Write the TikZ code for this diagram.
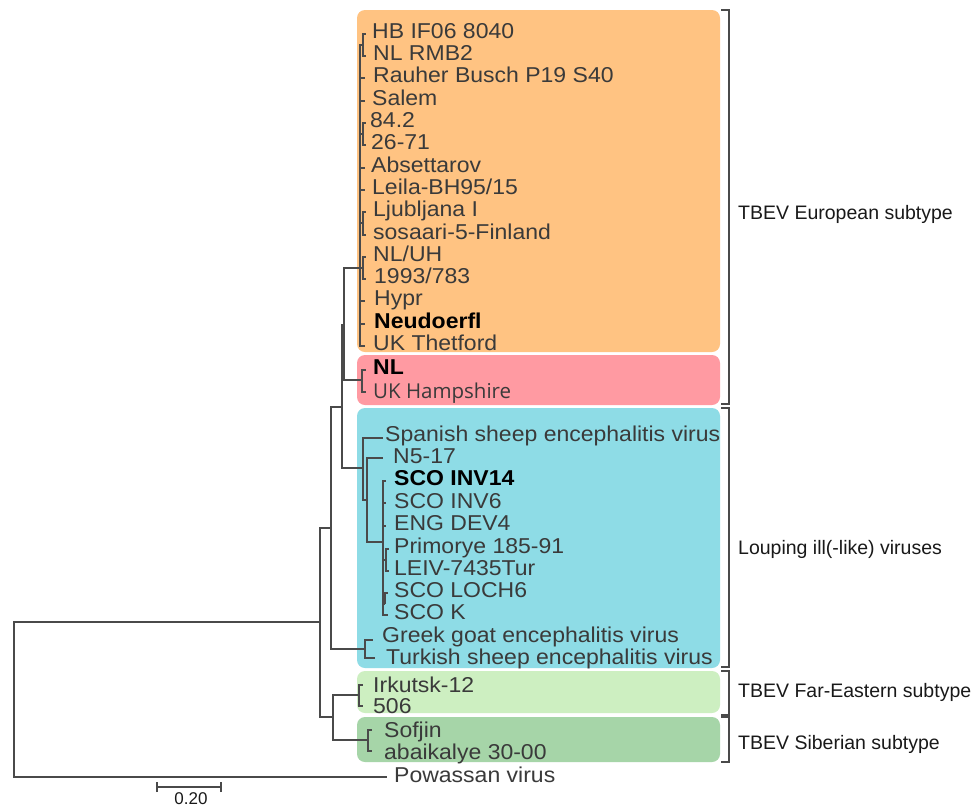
\documentclass[tikz,border=0pt]{standalone}
\usepackage{fontspec}
\setmainfont{Liberation Sans}
\newfontfamily\leaffont[FakeStretch=1.07]{Liberation Sans}
\newfontfamily\hampfont{Open Sans}
\definecolor{orangebox}{HTML}{FFC382}
\definecolor{redbox}{HTML}{FF9AA2}
\definecolor{cyanbox}{HTML}{8EDCE6}
\definecolor{lgreenbox}{HTML}{CDEFC1}
\definecolor{dgreenbox}{HTML}{A6D5A8}
\definecolor{treegray}{HTML}{4A4A4A}
\definecolor{leafgray}{HTML}{3A3A3A}
\begin{document}
\begin{tikzpicture}[x=1pt,y=-1pt,
  branch/.style={draw=treegray,line width=1.2pt},
  cladebox/.style={rounded corners=8pt},
  leaf/.style={anchor=base west,inner sep=0pt,text=leafgray,font=\leaffont\fontsize{21.5}{24}\selectfont},
  boldleaf/.style={leaf,text=black,font=\leaffont\bfseries\fontsize{21.5}{24}\selectfont},
  grplabel/.style={anchor=base west,inner sep=0pt,text=black!90,font=\fontsize{19.5}{22}\selectfont},
  bracket/.style={draw=treegray,line width=1.1pt}]
\useasboundingbox (0,0) rectangle (974,807);
\fill[white] (0,0) rectangle (974,807);
% clade boxes
\fill[orangebox,cladebox] (357,10) rectangle (720,352);
\fill[redbox,cladebox] (357,355) rectangle (720,405);
\fill[cyanbox,cladebox] (357,408) rectangle (720,668);
\fill[lgreenbox,cladebox] (357,671) rectangle (720,713);
\fill[dgreenbox,cladebox] (357,717) rectangle (720,762);
% brackets
\draw[bracket] (721,10) -| (729,404) -- (721,404);
\draw[bracket] (721,408) -| (729,667) -- (721,667);
\draw[bracket] (721,671) -| (729,715) -- (721,715);
\draw[bracket] (721,717) -| (729,762) -- (721,762);
% group labels
\node[grplabel] (gEU) at (738,219) {TBEV European subtype};
\node[grplabel] (gLI) at (738,554) {Louping ill(-like) viruses};
\node[grplabel] (gFE) at (738,697) {TBEV Far-Eastern subtype};
\node[grplabel] (gSI) at (738,749) {TBEV Siberian subtype};
% tree coordinates
\coordinate (P0) at (14,700);
\coordinate (A) at (320,622);
\coordinate (Pow) at (387,777);
\coordinate (B) at (331,528);
\coordinate (C) at (333,717);
\coordinate (D) at (342,407);
\coordinate (GT) at (365,649);
\coordinate (E) at (344,325);
\coordinate (F) at (363,468);
\coordinate (Eu) at (360,268);
\coordinate (NLH) at (362,380);
\coordinate (G) at (367,500);
\coordinate (SCO) at (383,542);
\coordinate (FE) at (359,695);
\coordinate (Sib) at (368,740);
% European sub-nodes and tips
\coordinate (p1) at (363,45);
\coordinate (p2) at (363,134);
\coordinate (p3) at (363,223);
\coordinate (p4) at (363,268);
\coordinate (tHB) at (366,34);
\coordinate (tNLR) at (366,56);
\coordinate (tRau) at (365,78);
\coordinate (tSal) at (365,101);
\coordinate (t842) at (366,123);
\coordinate (t2671) at (366,145);
\coordinate (tAbs) at (365,168);
\coordinate (tLei) at (365,190);
\coordinate (tLju) at (366,212);
\coordinate (tSos) at (366,235);
\coordinate (tNLUH) at (366,257);
\coordinate (t1993) at (366,279);
\coordinate (tHyp) at (365,301);
\coordinate (tNeu) at (365,324);
\coordinate (tUKT) at (365,346);
\coordinate (tNL) at (366,370);
\coordinate (tUKH) at (366,392);
% louping ill tips
\coordinate (tSpan) at (383,438);
\coordinate (tN5) at (383,458);
\coordinate (q1) at (386,560);
\coordinate (q2) at (385,604);
\coordinate (tINV14) at (386,481);
\coordinate (tINV6) at (386,503);
\coordinate (tENG) at (386,526);
\coordinate (tPri) at (389,549);
\coordinate (tLEIV) at (389,571);
\coordinate (tLOCH) at (388,593);
\coordinate (tK) at (388,615);
\coordinate (tGre) at (373,640);
\coordinate (tTur) at (375,658);
\coordinate (tIrk) at (363,685);
\coordinate (t506) at (363,706);
\coordinate (tSof) at (372,730);
\coordinate (tAba) at (372,751);
% branches
\draw[branch] (P0) |- (A) (P0) |- (Pow);
\draw[branch] (A) |- (B) (A) |- (C);
\draw[branch] (B) |- (D) (B) |- (GT);
\draw[branch] (D) |- (E) (D) |- (F);
\draw[branch] (E) |- (Eu) (E) |- (NLH);
\draw[branch] (Eu) |- (p1) (Eu) |- (tRau) (Eu) |- (tSal) (Eu) |- (p2)
  (Eu) |- (tAbs) (Eu) |- (tLei) (Eu) |- (p3) (Eu) |- (p4)
  (Eu) |- (tHyp) (Eu) |- (tNeu) (Eu) |- (tUKT);
\draw[branch,line width=2.4pt] (360,205) -- (Eu);
\draw[branch] (p1) |- (tHB) (p1) |- (tNLR);
\draw[branch] (p2) |- (t842) (p2) |- (t2671);
\draw[branch] (p3) |- (tLju) (p3) |- (tSos);
\draw[branch] (p4) |- (tNLUH) (p4) |- (t1993);
\draw[branch] (NLH) |- (tNL) (NLH) |- (tUKH);
\draw[branch] (F) |- (tSpan) (F) |- (G);
\draw[branch] (G) |- (tN5) (G) |- (SCO);
\draw[branch] (SCO) |- (tINV14) (SCO) |- (tINV6) (SCO) |- (tENG)
  (SCO) |- (q1) (SCO) |- (q2) (SCO) |- (tK);
\draw[branch,line width=2pt] (q1) |- (tPri) (q1) |- (tLEIV);
\draw[branch] (q2) |- (tLOCH);
\draw[branch,line width=2pt] (383,593) -- (383,604);
\draw[branch] (GT) |- (tGre) (GT) |- (tTur);
\draw[branch] (C) |- (FE) (C) |- (Sib);
\draw[branch] (FE) |- (tIrk) (FE) |- (t506);
\draw[branch] (Sib) |- (tSof) (Sib) |- (tAba);
% leaf labels
\node[leaf] (lHB) at (372,38) {HB IF06 8040};
\node[leaf] (lNLR) at (373,60) {NL RMB2};
\node[leaf] (lRau) at (373,82) {Rauher Busch P19 S40};
\node[leaf] (lSal) at (372,105) {Salem};
\node[leaf] (l842) at (370,127) {84.2};
\node[leaf] (l2671) at (371,149) {26-71};
\node[leaf] (lAbs) at (371,172) {Absettarov};
\node[leaf] (lLei) at (372,194) {Leila-BH95/15};
\node[leaf] (lLju) at (373,216) {Ljubljana I};
\node[leaf] (lSos) at (373,239) {sosaari-5-Finland};
\node[leaf] (lNLUH) at (373,261) {NL/UH};
\node[leaf] (l1993) at (374,283) {1993/783};
\node[leaf] (lHyp) at (374,305) {Hypr};
\node[boldleaf] (lNeu) at (374,328) {Neudoerfl};
\node[leaf] (lUKT) at (373,350) {UK Thetford};
\node[boldleaf] (lNL) at (373,374) {NL};
\node[leaf,font=\hampfont\fontsize{20.5}{24}\selectfont] (lUKH) at (373,398) {UK Hampshire};
\node[leaf] (lSpan) at (385,441) {Spanish sheep encephalitis virus};
\node[leaf] (lN5) at (393,463) {N5-17};
\node[boldleaf] (lINV14) at (394,485) {SCO INV14};
\node[leaf] (lINV6) at (394,508) {SCO INV6};
\node[leaf] (lENG) at (394,530) {ENG DEV4};
\node[leaf] (lPri) at (394,553) {Primorye 185-91};
\node[leaf] (lLEIV) at (394,575) {LEIV-7435Tur};
\node[leaf] (lLOCH) at (394,597) {SCO LOCH6};
\node[leaf] (lK) at (394,619) {SCO K};
\node[leaf] (lGre) at (382,642) {Greek goat encephalitis virus};
\node[leaf] (lTur) at (386,664) {Turkish sheep encephalitis virus};
\node[leaf] (lIrk) at (373,692) {Irkutsk-12};
\node[leaf] (l506) at (373,713) {506};
\node[leaf] (lSof) at (384,737) {Sofjin};
\node[leaf] (lAba) at (384,759) {abaikalye 30-00};
\node[leaf] (lPow) at (394,782) {Powassan virus};
% scale bar
\coordinate (sb1) at (157,787);
\coordinate (sb2) at (221,787);
\draw[branch] (sb1) -- (sb2);
\draw[branch] ([yshift=-5pt]sb1) -- ([yshift=5pt]sb1);
\draw[branch] ([yshift=-5pt]sb2) -- ([yshift=5pt]sb2);
\node[anchor=base,inner sep=0pt,text=black!90,font=\fontsize{17}{19}\selectfont] (sbl) at (191,804.5) {0.20};
\end{tikzpicture}
\end{document}
